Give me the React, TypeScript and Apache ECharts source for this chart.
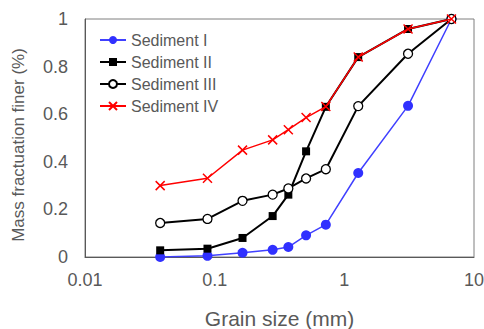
import React, { useEffect, useRef } from "react";
import * as echarts from "echarts";

const grainSize = [0.038, 0.088, 0.164, 0.28, 0.37, 0.507, 0.72, 1.28, 3.1, 6.7];
const sedimentI = [0, 0.005, 0.018, 0.03, 0.042, 0.091, 0.136, 0.353, 0.635, 1];
const sedimentII = [0.028, 0.035, 0.08, 0.172, 0.262, 0.444, 0.631, 0.84, 0.958, 1];
const sedimentIII = [0.143, 0.16, 0.236, 0.262, 0.288, 0.33, 0.369, 0.634, 0.854, 1];
const sedimentIV = [0.3, 0.331, 0.449, 0.492, 0.535, 0.586, 0.632, 0.84, 0.958, 1];
const xTicks = [0.01, 0.1, 1, 10];

const pairs = (ys: number[]) => grainSize.map((x, i) => [x, ys[i]]);

const FONT = "Liberation Sans, Arial, sans-serif";
const GRAY = "#595959";

export default function App() {
  const ref = useRef<HTMLDivElement>(null);
  useEffect(() => {
    if (!ref.current) return;
    const chart = echarts.init(ref.current, undefined, { renderer: "svg" });
    chart.setOption({
      animation: false,
      grid: {
        left: 85,
        right: 10,
        top: 19,
        bottom: 72,
        outerBoundsMode: "none",
        containLabel: false,
        show: true,
        borderColor: "#7f7f7f",
        borderWidth: 1,
      },
      legend: {
        orient: "vertical",
        left: 94,
        top: 27,
        itemWidth: 26,
        itemHeight: 10,
        itemGap: 6,
        textStyle: { color: GRAY, fontSize: 16, fontFamily: FONT },
        data: ["Sediment I", "Sediment II", "Sediment III", "Sediment IV"],
      },
      xAxis: {
        type: "log",
        logBase: 10,
        min: 0.01,
        max: 10,
        name: "Grain size (mm)",
        nameLocation: "middle",
        nameGap: 51,
        nameTextStyle: { color: GRAY, fontSize: 21, fontFamily: FONT },
        axisLine: { lineStyle: { color: "#595959" } },
        axisTick: { show: false },
        splitLine: { show: false },
        minorTick: { show: false },
        axisLabel: {
          color: GRAY,
          fontSize: 18,
          fontFamily: FONT,
          margin: 14,
          formatter: (v: number) => {
            const t = xTicks.find((k) => Math.abs(Math.log10(k) - Math.log10(v)) < 1e-6);
            return t !== undefined ? String(t) : "";
          },
        },
      },
      yAxis: {
        type: "value",
        min: 0,
        max: 1,
        interval: 0.2,
        name: "Mass fractuation finer (%)",
        nameLocation: "middle",
        nameGap: 58,
        nameTextStyle: { color: GRAY, fontSize: 17, fontFamily: FONT, padding: [0, 14, 0, 0] },
        axisLine: { show: true, lineStyle: { color: "#595959" } },
        axisTick: { show: false },
        splitLine: { show: false },
        axisLabel: {
          color: GRAY,
          fontSize: 18,
          fontFamily: FONT,
          margin: 17,
          formatter: (v: number) => String(Math.round(v * 10) / 10),
        },
      },
      series: [
        {
          name: "Sediment I",
          type: "line",
          data: pairs(sedimentI),
          symbol: "circle",
          symbolSize: 10,
          lineStyle: { color: "#4040ff", width: 1.5 },
          itemStyle: { color: "#3030ff" },
          z: 2,
        },
        {
          name: "Sediment II",
          type: "line",
          data: pairs(sedimentII),
          symbol: "rect",
          symbolSize: 8,
          lineStyle: { color: "#000", width: 2 },
          itemStyle: { color: "#000" },
          z: 3,
        },
        {
          name: "Sediment III",
          type: "line",
          data: pairs(sedimentIII),
          symbol: "circle",
          symbolSize: 9,
          lineStyle: { color: "#000", width: 2 },
          itemStyle: { color: "#fff", borderColor: "#000", borderWidth: 1.3 },
          z: 4,
        },
        {
          name: "Sediment IV",
          type: "line",
          data: pairs(sedimentIV),
          symbol: "path://M0,0L10,10M10,0L0,10",
          symbolSize: 9,
          lineStyle: { color: "#ff0000", width: 1.5 },
          itemStyle: { color: "#ff0000", borderColor: "#ff0000", borderWidth: 1.5 },
          z: 5,
        },
      ],
    });
    return () => chart.dispose();
  }, []);
  return <div ref={ref} style={{ width: 484, height: 329, position: "absolute", left: 0, top: 0 }} />;
}
